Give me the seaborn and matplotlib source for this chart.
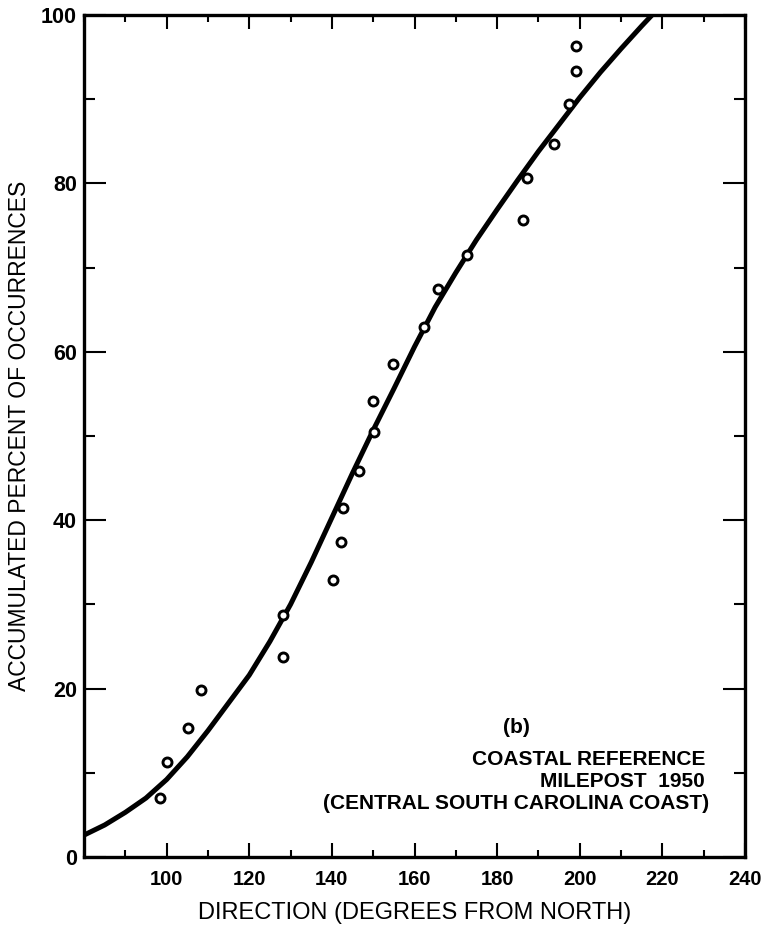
import matplotlib
matplotlib.use("Agg")
import matplotlib.pyplot as plt
import seaborn as sns
import pandas as pd
from matplotlib.ticker import MultipleLocator, FixedLocator

# ---- data ----
obs_direction = [98.4, 100.1, 105.1, 108.3, 128.1, 128.1, 140.2, 142.1, 142.8, 146.5, 150.3,
                 149.9, 154.7, 162.4, 165.8, 172.6, 186.3, 187.3, 193.7, 197.5, 199.2, 199.2]
obs_percent = [7.0, 11.3, 15.3, 19.8, 28.8, 23.8, 32.9, 37.4, 41.5, 45.8, 50.5,
               54.2, 58.6, 62.9, 67.5, 71.5, 75.7, 80.7, 84.7, 89.4, 93.3, 96.3]

curve_direction = [80, 85, 90, 95, 100, 105, 110, 115, 120, 125, 130, 135, 140, 145,
                   150, 155, 160, 165, 170, 175, 180, 185, 190, 195, 200, 205, 210,
                   215, 220]
curve_percent = [2.6, 3.8, 5.3, 7.0, 9.2, 11.9, 15.0, 18.3, 21.6, 25.6, 30.0, 35.0, 40.3,
                 45.6, 50.7, 55.6, 60.6, 65.3, 69.4, 73.3, 76.9, 80.4, 83.8, 87.0, 90.2,
                 93.2, 96.0, 98.7, 101.3]

x_ticks = [100, 120, 140, 160, 180, 200, 220, 240]
y_ticks = [0, 20, 40, 60, 80, 100]

annotation_lines = ["COASTAL REFERENCE", "MILEPOST  1950", "(CENTRAL SOUTH CAROLINA COAST)"]
panel_tag = "(b)"
x_label = "DIRECTION (DEGREES FROM NORTH)"
y_label = "ACCUMULATED PERCENT OF OCCURRENCES"

# ---- styling ----
sns.set_style("ticks")
plt.rcParams["font.family"] = ["Liberation Sans", "DejaVu Sans"]
plt.rcParams.update({
    "text.color": "black", "axes.labelcolor": "black", "axes.edgecolor": "black",
    "xtick.color": "black", "ytick.color": "black",
})

obs = pd.DataFrame({"direction": obs_direction, "percent": obs_percent})
curve = pd.DataFrame({"direction": curve_direction, "percent": curve_percent})

W, H = 782, 930
fig = plt.figure(figsize=(W / 100, H / 100), dpi=100)
ax = fig.add_axes([84 / W, 1 - 857 / H, (745 - 84) / W, (857 - 15) / H])

sns.lineplot(data=curve, x="direction", y="percent", ax=ax, color="black",
             linewidth=3.6, estimator=None, sort=False, solid_joinstyle="round",
             solid_capstyle="butt")
sns.scatterplot(data=obs, x="direction", y="percent", ax=ax, marker="o",
                s=42, facecolor="white", edgecolor="black", linewidth=2.1, zorder=3)

ax.set_xlim(80, 240)
ax.set_ylim(0, 100)

ax.xaxis.set_major_locator(FixedLocator(x_ticks))
ax.xaxis.set_minor_locator(MultipleLocator(10))
ax.yaxis.set_major_locator(FixedLocator(y_ticks))
ax.yaxis.set_minor_locator(MultipleLocator(10))
ax.set_xticklabels([str(v) for v in x_ticks])
ax.set_yticklabels([str(v) for v in y_ticks])

ax.tick_params(which="both", direction="in", top=True, right=True, color="black",
               labelcolor="black", width=1.5)
ax.tick_params(axis="y", which="major", length=16, pad=5, labelsize=15.5)
ax.tick_params(axis="y", which="minor", length=8)
ax.tick_params(axis="x", which="major", length=10, pad=9, labelsize=14.5)
ax.tick_params(axis="x", which="minor", length=5)
for lab in ax.get_xticklabels() + ax.get_yticklabels():
    lab.set_fontweight("bold")

for sp in ax.spines.values():
    sp.set_visible(True)
    sp.set_linewidth(2.4)
    sp.set_color("black")

ax.set_xlabel(x_label, fontsize=17, labelpad=10, color="black")
ax.set_ylabel(y_label, fontsize=16.5, labelpad=7, color="black")

# annotation block
ax.text(184.7, 15.4, panel_tag, ha="center", va="center", fontsize=15, fontweight="bold", color="black")
ax.text(230.3, 11.6, annotation_lines[0], ha="right", va="center", fontsize=15, fontweight="bold", color="black")
ax.text(230.3, 9.0, annotation_lines[1], ha="right", va="center", fontsize=15, fontweight="bold", color="black")
ax.text(231.3, 6.4, annotation_lines[2], ha="right", va="center", fontsize=15, fontweight="bold", color="black")

fig.savefig("out.png", dpi=100, facecolor="white")
